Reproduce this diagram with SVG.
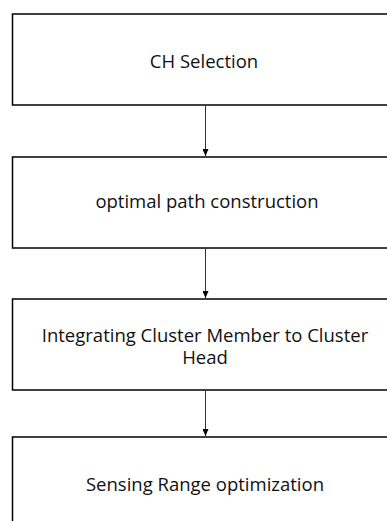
<svg xmlns="http://www.w3.org/2000/svg" width="387" height="521" viewBox="0 0 387 521">
<style>
.box{fill:#fff;stroke:#000;stroke-width:1.5}
.lbl{font-family:"Open Sans","Liberation Sans",sans-serif;font-size:18.5px;fill:#111;text-anchor:middle}
.conn{stroke:#333;stroke-width:1;fill:none}
</style>
<defs>
<marker id="ah" markerWidth="7" markerHeight="6" refX="7" refY="3" orient="auto" markerUnits="userSpaceOnUse">
<path d="M0,0 L7,3 L0,6 Z" fill="#000"/>
</marker>
</defs>
<rect width="387" height="521" fill="#fff"/>
<g id="n1"><rect class="box" x="12.5" y="14" width="400" height="91"/><text class="lbl" x="204" y="68">CH Selection</text></g>
<g id="n2"><rect class="box" x="12.5" y="157" width="400" height="91"/><text class="lbl" x="207" y="208">optimal path construction</text></g>
<g id="n3"><rect class="box" x="12.5" y="299" width="400" height="91"/><text class="lbl" x="205" y="342"><tspan x="205" y="342">Integrating Cluster Member to Cluster</tspan><tspan x="205" y="364">Head</tspan></text></g>
<g id="n4"><rect class="box" x="12.5" y="437" width="400" height="120"/><text class="lbl" x="205" y="491">Sensing Range optimization</text></g>
<g id="connectors">
<line class="conn" x1="205.5" y1="105" x2="205.5" y2="156" marker-end="url(#ah)"/>
<line class="conn" x1="205.5" y1="248" x2="205.5" y2="298" marker-end="url(#ah)"/>
<line class="conn" x1="205.5" y1="390" x2="205.5" y2="436" marker-end="url(#ah)"/>
</g>
</svg>
